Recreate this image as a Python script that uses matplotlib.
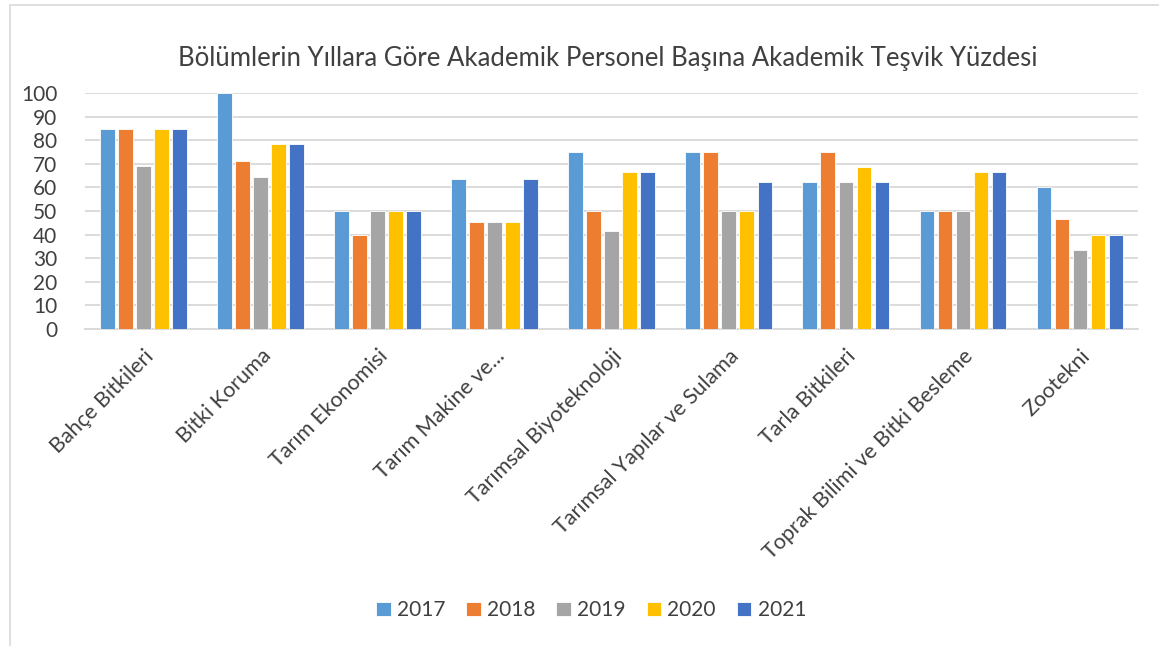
import numpy as np
import matplotlib.pyplot as plt
from matplotlib.patches import Rectangle

plt.rcParams['font.family'] = ['Lato', 'DejaVu Sans']

categories = ["Bahçe Bitkileri", "Bitki Koruma", "Tarım Ekonomisi", "Tarım Makine ve...",
              "Tarımsal Biyoteknoloji", "Tarımsal Yapılar ve Sulama", "Tarla Bitkileri",
              "Toprak Bilimi ve Bitki Besleme", "Zootekni"]
years = ["2017", "2018", "2019", "2020", "2021"]
v2017 = [84.6, 100, 50, 63.6, 75, 75, 62.5, 50, 60]
v2018 = [84.6, 71.4, 40, 45.5, 50, 75, 75, 50, 46.7]
v2019 = [69.2, 64.3, 50, 45.5, 41.7, 50, 62.5, 50, 33.3]
v2020 = [84.6, 78.6, 50, 45.5, 66.7, 50, 68.75, 66.7, 40]
v2021 = [84.6, 78.6, 50, 63.6, 66.7, 62.5, 62.5, 66.7, 40]
series = [v2017, v2018, v2019, v2020, v2021]
colors = ["#5B9BD5", "#ED7D31", "#A5A5A5", "#FFC000", "#4472C4"]

fig = plt.figure(figsize=(11.59, 6.46), dpi=100)
ax = fig.add_axes([0.0733, 0.4907, 0.909, 0.3653])

x = np.arange(len(categories))
step = 0.154
width = 0.125
for i, (vals, yr, c) in enumerate(zip(series, years, colors)):
    ax.bar(x + (i - 2) * step, vals, width, color=c, label=yr,
           edgecolor="white", linewidth=0.6, zorder=3)

ax.set_xlim(-0.5, len(categories) - 0.5)
ax.set_ylim(0, 100)
ax.set_yticks(range(0, 101, 10))
ax.yaxis.grid(True, color="#D9D9D9", linewidth=1.3, zorder=0)
ax.tick_params(axis="y", length=0, labelsize=15, labelcolor="#404040", pad=20)
ax.set_xticks(x)
ax.set_xticklabels(categories, rotation=45, ha="right", rotation_mode="anchor",
                   fontsize=15.5, color="#404040")
ax.tick_params(axis="x", length=0, pad=12)
for s in ["top", "right", "left"]:
    ax.spines[s].set_visible(False)
ax.spines["bottom"].set_color("#D9D9D9")
ax.spines["bottom"].set_linewidth(1.3)

fig.text(0.524, 0.91, "Bölümlerin Yıllara Göre Akademik Personel Başına Akademik Teşvik Yüzdesi",
         ha="center", va="center", fontsize=18.5, color="#404040")

fig.legend(loc="center", bbox_to_anchor=(0.510, 0.055), ncol=5, frameon=False,
           fontsize=15, handlelength=0.7, handleheight=0.7, columnspacing=1.0,
           handletextpad=0.3, labelcolor="#404040")

fig.patches.append(Rectangle((0.009, -0.02), 1.02, 1.012, transform=fig.transFigure,
                             fill=False, edgecolor="#D9D9D9", linewidth=1.2))

fig.savefig("out.png", dpi=100)
